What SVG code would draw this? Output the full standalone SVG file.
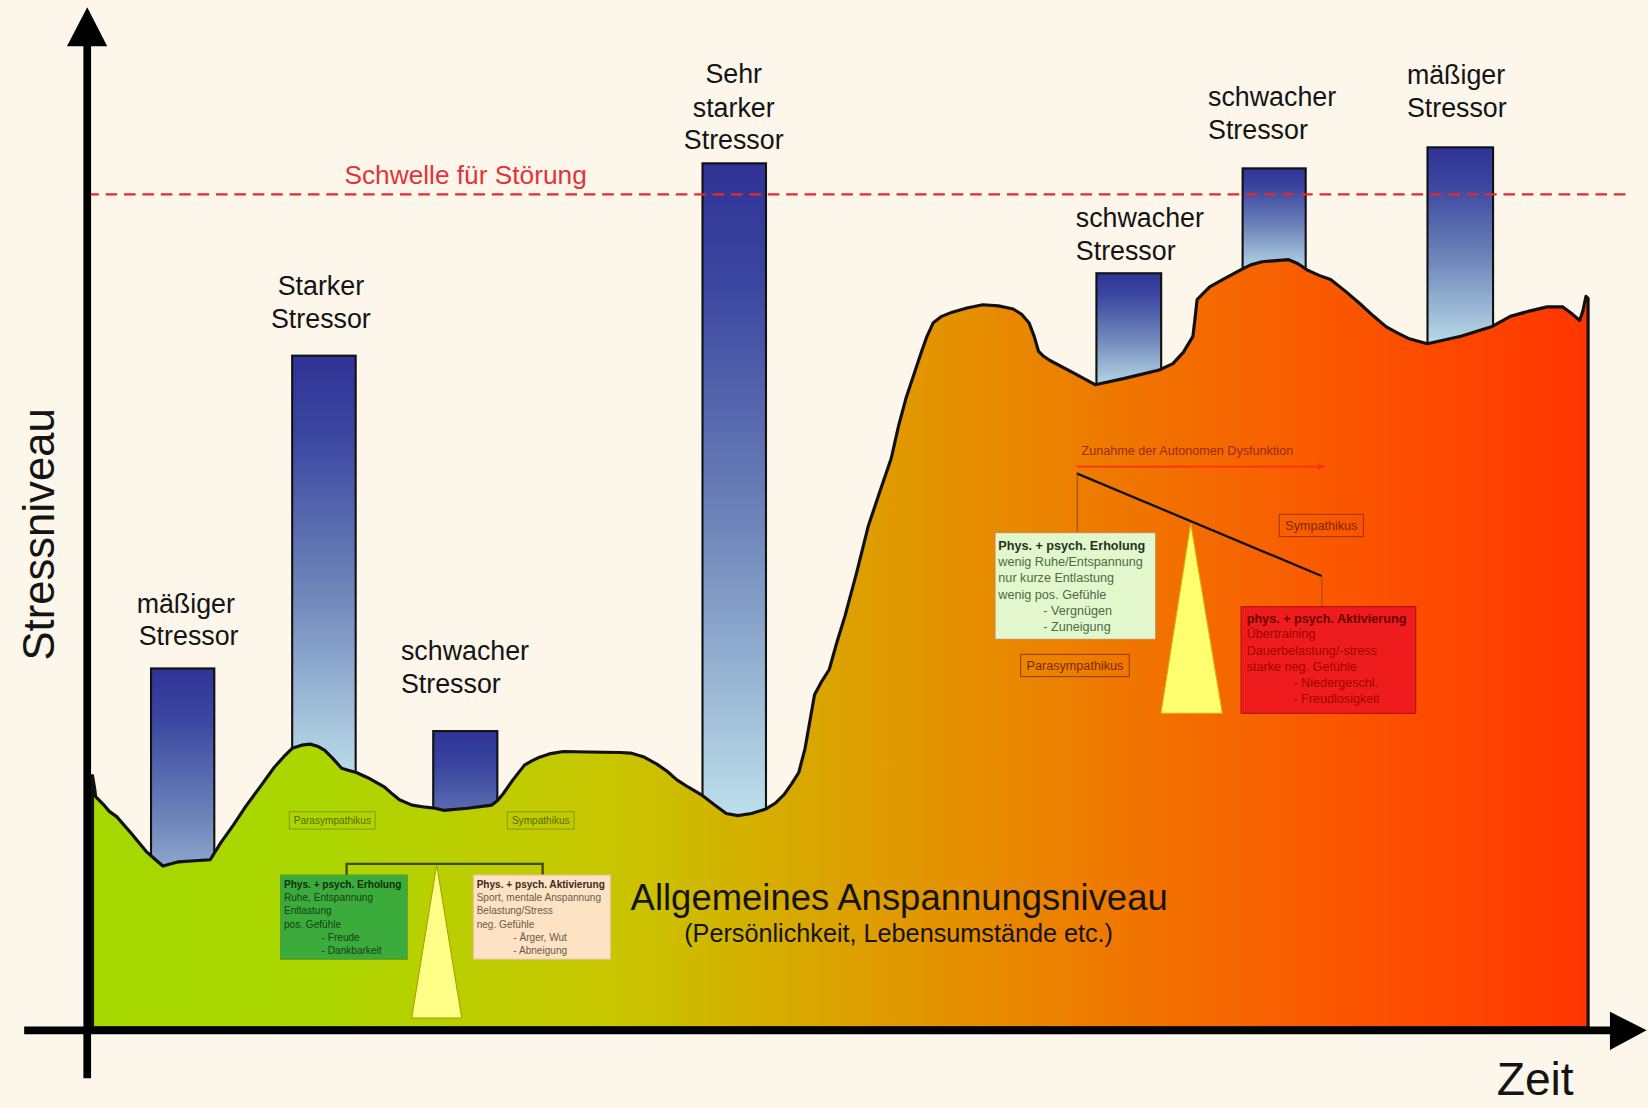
<svg xmlns="http://www.w3.org/2000/svg" width="1648" height="1108" viewBox="0 0 1648 1108">
<defs>
<linearGradient id="barGrad" x1="0" y1="0" x2="0" y2="1">
<stop offset="0" stop-color="#2f3396"/>
<stop offset="0.18" stop-color="#3b46a0"/>
<stop offset="0.55" stop-color="#6f86ba"/>
<stop offset="1" stop-color="#bfe2ec"/>
</linearGradient>
<linearGradient id="areaGrad" gradientUnits="userSpaceOnUse" x1="88" y1="0" x2="1511" y2="0">
<stop offset="0" stop-color="#a4d800"/>
<stop offset="0.15" stop-color="#acd600"/>
<stop offset="0.346" stop-color="#c8c600"/>
<stop offset="0.5" stop-color="#dca200"/>
<stop offset="0.606" stop-color="#e88a00"/>
<stop offset="0.718" stop-color="#f27000"/>
<stop offset="0.817" stop-color="#fa5a00"/>
<stop offset="1" stop-color="#ff3500"/>
</linearGradient>
<marker id="redArrow" viewBox="0 0 10 10" refX="9" refY="5" markerWidth="5" markerHeight="5" orient="auto" markerUnits="strokeWidth">
<path d="M0,1 L10,5 L0,9 z" fill="#ff3010"/>
</marker>
<style>
.bar{fill:url(#barGrad);stroke:#111;stroke-width:2}
.lbl{font-family:"Liberation Sans",Arial,sans-serif;font-size:25.5px;fill:#141414}
.lblc{text-anchor:middle}
.small{font-family:"Liberation Sans",Arial,sans-serif;font-size:9.6px}
.mid{font-family:"Liberation Sans",Arial,sans-serif;font-size:12px}
.b{font-weight:bold}
.axis{stroke:#000;stroke-width:7.3;fill:none}
</style>
</defs>
<rect x="0" y="0" width="1648" height="1108" fill="#fcf6eb"/>
<g transform="scale(1.05102)">

<g id="stressors">
<g id="bar-maessig-1">
<rect class="bar" x="143.7" y="636" width="60.2" height="264"/>
<text class="lbl" x="130" y="583.5">mäßiger</text>
<text class="lbl" x="132" y="613.7">Stressor</text>
</g>
<g id="bar-stark">
<rect class="bar" x="278" y="338.4" width="60.4" height="410"/>
<text class="lbl lblc" x="305.3" y="280.7">Starker</text>
<text class="lbl lblc" x="305.3" y="312.4">Stressor</text>
</g>
<g id="bar-schwach-1">
<rect class="bar" x="412.2" y="695.6" width="61" height="190"/>
<text class="lbl" x="381.5" y="628">schwacher</text>
<text class="lbl" x="381.5" y="659.7">Stressor</text>
</g>
<g id="bar-sehr-stark">
<rect class="bar" x="668.4" y="155.4" width="60.4" height="630"/>
<text class="lbl lblc" x="698.1" y="79.3">Sehr</text>
<text class="lbl lblc" x="698.1" y="111.6">starker</text>
<text class="lbl lblc" x="698.1" y="142.1">Stressor</text>
</g>
<g id="bar-schwach-2">
<rect class="bar" x="1043.2" y="260" width="61.6" height="112"/>
<text class="lbl" x="1023.6" y="215.7">schwacher</text>
<text class="lbl" x="1023.6" y="247.4">Stressor</text>
</g>
<g id="bar-schwach-3">
<rect class="bar" x="1182.3" y="160.2" width="60" height="102"/>
<text class="lbl" x="1149.4" y="100.9">schwacher</text>
<text class="lbl" x="1149.4" y="132.6">Stressor</text>
</g>
<g id="bar-maessig-2">
<rect class="bar" x="1358.2" y="140.2" width="62.4" height="194"/>
<text class="lbl" x="1338.6" y="80">mäßiger</text>
<text class="lbl" x="1338.6" y="111">Stressor</text>
</g>
</g>

<g id="anspannungsniveau">
<path fill="url(#areaGrad)" stroke="#111" stroke-width="3" stroke-linejoin="round" d="M88,978 L88,738 L90,750 L91,758 L98,765 L104,772 L111,777 L125,793 L139,810 L148,818 L155,824 L162,822 L170,820 L185,819 L200,818 L210,802 L222,785 L234,767 L248,748 L261,730 L270,720 L278,712 L287,709 L295,708 L302,710 L309,714 L317,722 L325,731 L332,733 L339,735 L352,741 L366,749 L374,756 L380,761 L392,766 L405,768 L414,769 L422,771 L445,769 L468,766 L473,762 L479,755 L488,742 L499,728 L506,724 L512,721 L524,717 L536,715 L560,715.5 L590,716 L600,716.5 L612,720 L625,727 L635,734 L644,742 L655,749 L667,756 L680,766 L691,774 L702,776 L715,774 L728,770 L738,764 L746,756 L753,746 L760,735 L766,712 L775,661 L782,648 L789,637 L796,612 L804,586 L815,545 L826,501 L837,468 L848,436 L855,405 L862,379 L870,355 L877,334 L882,320 L888,307 L896,301 L906,297 L920,293 L935,290 L950,291 L964,294 L972,299 L979,307 L984,320 L988,334 L993,339 L999,343 L1020,354 L1042,366 L1070,360 L1103,352 L1116,346 L1126,335 L1135,320 L1137,303 L1139,285 L1145,279 L1151,273 L1165,265 L1180,257 L1190,252 L1201,249 L1214,248 L1226,247 L1235,251 L1244,257 L1255,262 L1266,266 L1280,277 L1294,289 L1306,300 L1319,311 L1330,317 L1340,322 L1358,327 L1390,320 L1419,311 L1437,301 L1455,296 L1472,292 L1487,292 L1495,298 L1503,305 L1506,296 L1509,282 L1511,284 L1511,978 Z"/>
<text x="600" y="865.8" font-family="'Liberation Sans',Arial,sans-serif" font-size="35" fill="#141414" textLength="511" lengthAdjust="spacingAndGlyphs">Allgemeines Anspannungsniveau</text>
<text x="651" y="896" font-family="'Liberation Sans',Arial,sans-serif" font-size="24" fill="#141414" textLength="408" lengthAdjust="spacingAndGlyphs">(Persönlichkeit, Lebensumstände etc.)</text>
</g>

<g id="schwelle">
<line x1="83" y1="184.9" x2="1553" y2="184.9" stroke="#e8282e" stroke-width="2.2" stroke-dasharray="11,6.5"/>
<text x="327.7" y="175.4" font-family="'Liberation Sans',Arial,sans-serif" font-size="25" fill="#e2343a">Schwelle für Störung</text>
</g>

<g id="connectors">
<path d="M329.8,832.5 V822 H516.3 V832.5" fill="none" stroke="#3e4a00" stroke-width="2.2"/>
<line x1="1024.4" y1="444" x2="1260.7" y2="444" stroke="#ff3010" stroke-width="1.5" marker-end="url(#redArrow)"/>
<line x1="1024.4" y1="450.4" x2="1257.5" y2="548" stroke="#111" stroke-width="2.2"/>
<line x1="1025" y1="450.4" x2="1025" y2="506.8" stroke="#9a4a10" stroke-width="1"/>
<line x1="1257.7" y1="548" x2="1257.7" y2="577.2" stroke="#9a4a10" stroke-width="1"/>
</g>

<g id="balance-normal">
<g id="fulcrum-1"><polygon points="415.5,823 391.7,968.6 439.3,968.6" fill="#ffff88" stroke="#a8a000" stroke-width="1"/></g>
<g id="para-1">
<rect x="275.3" y="772.3" width="81.7" height="16.5" fill="none" stroke="#8a9a10" stroke-width="1"/>
<text class="small" x="316.2" y="784.3" text-anchor="middle" fill="#5a6a00">Parasympathikus</text>
</g>
<g id="sym-1">
<rect x="482.7" y="772.3" width="63.5" height="16.5" fill="none" stroke="#8a9a10" stroke-width="1"/>
<text class="small" x="514.5" y="784.3" text-anchor="middle" fill="#5a6a00">Sympathikus</text>
</g>
<g id="erholung-1">
<rect x="267" y="832.5" width="120.5" height="80.2" fill="#3bab3b" stroke="#5a9a2a" stroke-width="1"/>
<text class="small b" x="270.2" y="845" fill="#0d300d">Phys. + psych. Erholung</text>
<text class="small" x="270.2" y="857.5" fill="#183f18">Ruhe, Entspannung</text>
<text class="small" x="270.2" y="870" fill="#183f18">Entlastung</text>
<text class="small" x="270.2" y="882.5" fill="#183f18">pos. Gefühle</text>
<text class="small" x="306" y="895" fill="#183f18">- Freude</text>
<text class="small" x="306" y="907.5" fill="#183f18">- Dankbarkeit</text>
</g>
<g id="aktivierung-1">
<rect x="450.3" y="832.5" width="130.7" height="80.2" fill="#fde2c4" stroke="#e0c090" stroke-width="1"/>
<text class="small b" x="453.5" y="845" fill="#3a2a1a">Phys. + psych. Aktivierung</text>
<text class="small" x="453.5" y="857.5" fill="#6a5a4a">Sport, mentale Anspannung</text>
<text class="small" x="453.5" y="870" fill="#6a5a4a">Belastung/Stress</text>
<text class="small" x="453.5" y="882.5" fill="#6a5a4a">neg. Gefühle</text>
<text class="small" x="488.4" y="895" fill="#6a5a4a">- Ärger, Wut</text>
<text class="small" x="488.4" y="907.5" fill="#6a5a4a">- Abneigung</text>
</g>
</g>

<g id="balance-dysfunktion">
<text class="mid" x="1029" y="433" fill="#9a2a10">Zunahme der Autonomen Dysfunktion</text>
<g id="fulcrum-2"><polygon points="1132.9,497.9 1104.6,678.7 1163,678.7" fill="#ffff70" stroke="#d8b000" stroke-width="1"/></g>
<g id="sym-2">
<rect x="1217.2" y="489.4" width="80" height="21.2" fill="none" stroke="#9a3a10" stroke-width="1"/>
<text class="mid" x="1257.2" y="504.3" text-anchor="middle" fill="#7a2a00">Sympathikus</text>
</g>
<g id="para-2">
<rect x="971.1" y="622.6" width="103.4" height="21.2" fill="none" stroke="#9a3a10" stroke-width="1"/>
<text class="mid" x="1022.8" y="637.5" text-anchor="middle" fill="#7a2a00">Parasympathikus</text>
</g>
<g id="erholung-2">
<rect x="946.7" y="506.8" width="152.9" height="101.5" fill="#e2f8cc" stroke="#c88848" stroke-width="1"/>
<text class="mid b" x="949.9" y="523" fill="#1e321e">Phys. + psych. Erholung</text>
<text class="mid" x="949.9" y="538.5" fill="#4a6a48">wenig Ruhe/Entspannung</text>
<text class="mid" x="949.9" y="554" fill="#4a6a48">nur kurze Entlastung</text>
<text class="mid" x="949.9" y="569.5" fill="#4a6a48">wenig pos. Gefühle</text>
<text class="mid" x="992.7" y="585" fill="#4a6a48">- Vergnügen</text>
<text class="mid" x="992.7" y="600.5" fill="#4a6a48">- Zuneigung</text>
</g>
<g id="aktivierung-2">
<rect x="1180.8" y="577.2" width="166.2" height="101.5" fill="#ee1c1c" stroke="#b01010" stroke-width="1"/>
<text class="mid b" x="1186.2" y="592.5" fill="#6b0000">phys. + psych. Aktivierung</text>
<text class="mid" x="1186.2" y="607.5" fill="#a00404">Übertraining</text>
<text class="mid" x="1186.2" y="623" fill="#a00404">Dauerbelastung/-stress</text>
<text class="mid" x="1186.2" y="638.5" fill="#a00404">starke neg. Gefühle</text>
<text class="mid" x="1230.6" y="654" fill="#a00404">- Niedergeschl.</text>
<text class="mid" x="1230.6" y="669" fill="#a00404">- Freudlosigkeit</text>
</g>
</g>

<g id="axes">
<line class="axis" x1="83" y1="40" x2="83" y2="1026"/>
<polygon points="83,7 63.7,44 102,44" fill="#000"/>
<line class="axis" x1="23" y1="980.3" x2="1536" y2="980.3"/>
<polygon points="1566.7,980.3 1531.8,962.6 1531.8,999" fill="#000"/>
<text transform="translate(51,508.5) rotate(-90)" text-anchor="middle" font-family="'Liberation Sans',Arial,sans-serif" font-size="42" fill="#141414" textLength="240" lengthAdjust="spacingAndGlyphs">Stressniveau</text>
<text x="1424" y="1042" font-family="'Liberation Sans',Arial,sans-serif" font-size="44" fill="#141414">Zeit</text>
</g>
</g>
</svg>
